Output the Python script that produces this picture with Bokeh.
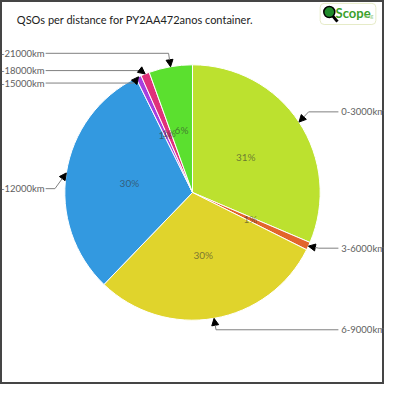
import numpy as np
from bokeh.plotting import figure
from bokeh.models import Range1d, ColumnDataSource, Arrow, NormalHead
from bokeh.core.properties import value
from bokeh.embed import file_html
from bokeh.resources import INLINE

title = "QSOs per distance for PY2AA472anos container."
categories = ["0-3000km", "3-6000km", "6-9000km", "9-12000km",
              "12-15000km", "15-18000km", "18-21000km"]
shares = [31.4, 1.0, 29.8, 30.5, 0.7, 1.1, 5.5]
colors = ["#bce12f", "#e2652c", "#e0d42c", "#3399e0", "#a63fe0", "#e0317a", "#5be02f"]
label_side = [1, 1, 1, -1, -1, -1, -1]
label_y_px = [116, 258, 343, 196, 86, 73, 55]   # layout of outer labels (px from top)

FONT = "Lato"
W = 384
CX, CY, R = 200.0, 200.0, 133.0

def Y(py):
    return 400.0 - py

p = figure(width=W, height=W, x_range=Range1d(0, 400), y_range=Range1d(0, 400),
           output_backend="svg", toolbar_location=None, min_border=0)
p.xaxis.visible = False
p.yaxis.visible = False
p.grid.visible = False
p.outline_line_color = "#454545"
p.outline_line_width = 3
p.background_fill_color = "white"
p.border_fill_color = "white"

vals = np.array(shares, dtype=float)
frac = vals / vals.sum()
cum_end = np.cumsum(frac)
cum_start = cum_end - frac
start = np.pi / 2 - 2 * np.pi * cum_start
end = np.pi / 2 - 2 * np.pi * cum_end
mid = 2 * np.pi * (cum_start + cum_end) / 2  # clockwise from top

src = ColumnDataSource(dict(start=start, end=end, color=colors))
p.wedge(x=CX, y=CY, radius=R, start_angle="start", end_angle="end", direction="clock",
        fill_color="color", line_color="white", line_width=1, source=src)

# percent labels
pct = [f"{int(round(v / vals.sum() * 100))}%" for v in vals]
px = CX + (R / 2) * np.sin(mid)
py = CY + (R / 2) * np.cos(mid)
p.text(x=px, y=py, text=pct, text_font=value(FONT), text_font_size="10px",
       text_color="#333333", text_alpha=0.6, text_align="center", text_baseline="middle")

# outer labels with arrows
tip_x = CX + R * np.sin(mid)
tip_y = CY + R * np.cos(mid)
elb_x = CX + (R + 12) * np.sin(mid)
elb_y = np.array([Y(v) for v in label_y_px])
side = np.array(label_side)
end_x = np.where(side > 0, 352.0, 47.0)

p.multi_line(xs=[[ex, lx] for ex, lx in zip(elb_x, end_x)],
             ys=[[ey, ey] for ey in elb_y], line_color="#808080", line_width=1)
asrc = ColumnDataSource(dict(x0=elb_x, y0=elb_y, x1=tip_x, y1=tip_y))
p.add_layout(Arrow(end=NormalHead(size=7, fill_color="black", line_color="black"),
                   x_start="x0", y_start="y0", x_end="x1", y_end="y1",
                   line_color="#808080", line_width=1, source=asrc))

for i in range(len(categories)):
    if side[i] > 0:
        p.text(x=[355], y=[elb_y[i]], text=[categories[i]], text_font=value(FONT),
               text_font_size="9.5px", text_color="#606060", text_align="left",
               text_baseline="middle")
    else:
        p.text(x=[46], y=[elb_y[i]], text=[categories[i]], text_font=value(FONT),
               text_font_size="9.5px", text_color="#606060", text_align="right",
               text_baseline="middle")

# title
p.text(x=[17], y=[Y(20)], text=[title], text_font=value(FONT), text_font_size="11px",
       text_color="#222222", text_align="left", text_baseline="middle")

# logo
p.rect(x=[362], y=[Y(14)], width=58, height=22, fill_color="white",
       line_color="#e6ebc8", line_width=1, border_radius=4)
p.line(x=[346, 351], y=[Y(16), Y(22)], line_color="black", line_width=3)
p.scatter(x=[342.5], y=[Y(12)], size=11, marker="circle", fill_color="#1f8a2a",
          line_color="black", line_width=1.5)
p.text(x=[349], y=[Y(13)], text=["Scope"], text_font=value(FONT), text_font_size="13px",
       text_font_style="bold", text_color="#3aa02a", text_align="left", text_baseline="middle")
p.text(x=[378], y=[Y(16)], text=[".org"], text_font=value(FONT), text_font_size="6px",
       text_color="#9ccf8a", text_align="left", text_baseline="middle")

open("out.html", "w").write(file_html(p, INLINE))
